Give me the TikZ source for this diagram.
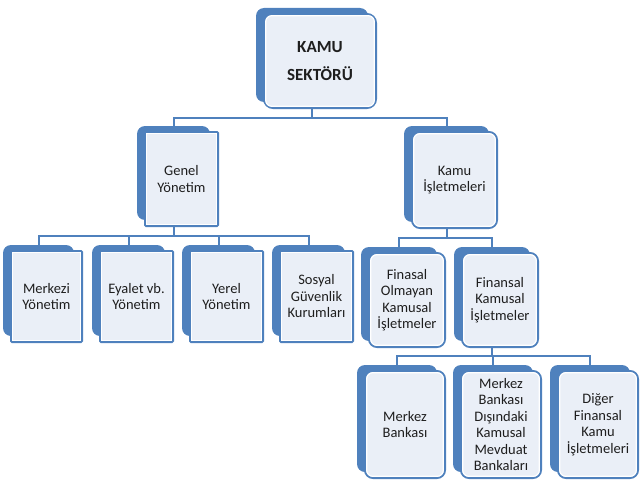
\documentclass[tikz,border=0pt]{standalone}
\usepackage{fontspec}
\setmainfont{Carlito}
\definecolor{kblue}{RGB}{79,129,189}
\definecolor{kfill}{RGB}{234,239,247}
\definecolor{ktext}{RGB}{30,30,30}
\begin{document}
\begin{tikzpicture}[x=1pt,y=-1pt,
  bk/.style={fill=kblue, rounded corners=8pt, inner sep=0pt, outer sep=0pt},
  fr/.style={fill=kfill, draw=kblue, line width=2pt, inner sep=1pt, outer sep=0pt,
             align=center, text=ktext, font=\fontsize{14.5}{16.5}\selectfont},
  rc/.style={rounded corners=8pt},
  sq/.style={rounded corners=1pt},
  conn/.style={draw=kblue, line width=2pt}]
\useasboundingbox (0,0) rectangle (642,487);

% level 1
\node[bk, minimum width=112pt, minimum height=94pt] (kamuB) at (312,55) {};
\node[fr, rc, rounded corners=9pt, minimum width=112pt, minimum height=94pt,
      font=\bfseries\fontsize{17}{28}\selectfont] (kamu) at (320,61) {KAMU\\SEKTÖRÜ};

% level 2
\node[bk, minimum width=73pt, minimum height=94pt] (genelB) at (173.5,173) {};
\node[fr, sq, minimum width=73pt, minimum height=94pt] (genel) at (181.5,179) {Genel\\Yönetim};
\node[bk, minimum width=85pt, minimum height=96pt] (kamuisB) at (446.5,174) {};
\node[fr, rc, minimum width=85pt, minimum height=96pt] (kamuis) at (454.5,180) {Kamu\\İşletmeleri};

% level 3 left
\node[bk, minimum width=71pt, minimum height=91pt] (merkeziB) at (38.5,290.5) {};
\node[fr, sq, minimum width=71pt, minimum height=91pt] (merkezi) at (46.5,296.5) {Merkezi\\Yönetim};
\node[bk, minimum width=73pt, minimum height=91pt] (eyaletB) at (128.5,290.5) {};
\node[fr, sq, minimum width=73pt, minimum height=91pt] (eyalet) at (136.5,296.5) {Eyalet vb.\\Yönetim};
\node[bk, minimum width=73pt, minimum height=91pt] (yerelB) at (218.5,290.5) {};
\node[fr, sq, minimum width=73pt, minimum height=91pt] (yerel) at (226.5,296.5) {Yerel\\Yönetim};
\node[bk, minimum width=73pt, minimum height=91pt] (sosyalB) at (308.5,290.5) {};
\node[fr, sq, minimum width=73pt, minimum height=91pt] (sosyal) at (316.5,296.5) {Sosyal\\Güvenlik\\Kurumları};

% level 3 right
\node[bk, minimum width=76pt, minimum height=94pt] (fomB) at (399,294) {};
\node[fr, rc, minimum width=76pt, minimum height=94pt] (fom) at (407,300) {Finasal\\Olmayan\\Kamusal\\İşletmeler};
\node[bk, minimum width=76pt, minimum height=94pt] (fkiB) at (492,294) {};
\node[fr, rc, minimum width=76pt, minimum height=94pt] (fki) at (500,300) {Finansal\\Kamusal\\İşletmeler};

% level 4
\node[bk, minimum width=80pt, minimum height=107pt] (mbB) at (397,418.5) {};
\node[fr, rc, minimum width=80pt, minimum height=107pt] (mb) at (405,424.5) {Merkez\\Bankası};
\node[bk, minimum width=80pt, minimum height=107pt] (mbdB) at (493,418.5) {};
\node[fr, rc, minimum width=80pt, minimum height=107pt] (mbd) at (501,424.5) {Merkez\\Bankası\\Dışındaki\\Kamusal\\Mevduat\\Bankaları};
\node[bk, minimum width=80pt, minimum height=107pt] (digerB) at (590,418.5) {};
\node[fr, rc, minimum width=80pt, minimum height=107pt] (diger) at (598,424.5) {Diğer\\Finansal\\Kamu\\İşletmeleri};

% inner white lines
\foreach \n in {kamu,kamuis,fom,fki,mb,mbd,diger}
  \draw[white, line width=1.2pt, rounded corners=6pt]
    ([shift={(1.7pt,-1.7pt)}]\n.north west) rectangle ([shift={(-1.7pt,1.7pt)}]\n.south east);
\foreach \n in {genel,merkezi,eyalet,yerel,sosyal}
  \draw[white, line width=1.2pt]
    ([shift={(1.7pt,-1.7pt)}]\n.north west) rectangle ([shift={(-1.7pt,1.7pt)}]\n.south east);

% connectors
\foreach \c in {genelB,kamuisB}
  \draw[conn] (kamuB.center |- kamu.south) -- ++(0,10) -| (\c.north);
\foreach \c in {merkeziB,eyaletB,yerelB,sosyalB}
  \draw[conn] (genelB.center |- genel.south) -- ++(0,10) -| (\c.north);
\foreach \c in {fomB,fkiB}
  \draw[conn] (kamuisB.center |- kamuis.south) -- ++(0,10) -| (\c.north);
\foreach \c in {mbB,mbdB,digerB}
  \draw[conn] (fkiB.center |- fki.south) -- ++(0,9) -| (\c.north);
\end{tikzpicture}
\end{document}
